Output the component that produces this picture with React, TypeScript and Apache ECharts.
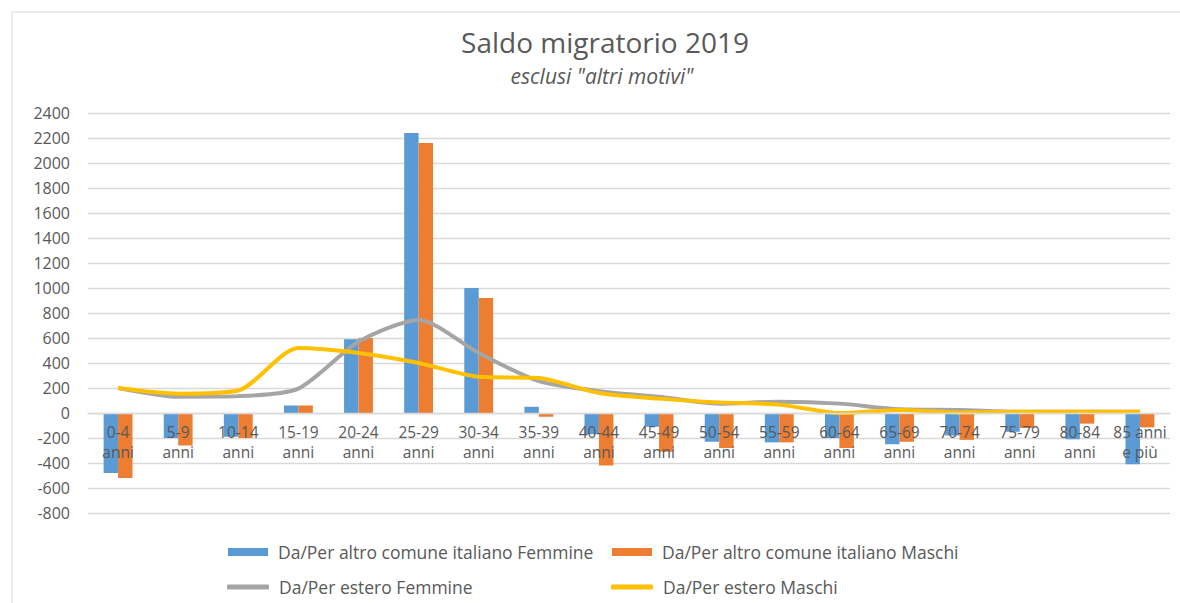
import React, { useEffect, useRef } from "react";
import * as echarts from "echarts";

const categories = [
  "0-4\nanni", "5-9\nanni", "10-14\nanni", "15-19\nanni", "20-24\nanni", "25-29\nanni",
  "30-34\nanni", "35-39\nanni", "40-44\nanni", "45-49\nanni", "50-54\nanni", "55-59\nanni",
  "60-64\nanni", "65-69\nanni", "70-74\nanni", "75-79\nanni", "80-84\nanni", "85 anni\ne più",
];

const italianoFemmine = [-480, -200, -190, 60, 590, 2240, 1000, 50, -170, -110, -230, -235, -200, -250, -180, -150, -210, -410];
const italianoMaschi = [-520, -260, -200, 60, 600, 2160, 920, -30, -420, -310, -280, -235, -280, -230, -215, -120, -85, -115];
const esteroFemmine = [200, 130, 135, 195, 570, 745, 480, 255, 175, 130, 75, 90, 75, 30, 25, 10, 10, 10];
const esteroMaschi = [200, 155, 180, 520, 480, 400, 290, 280, 160, 115, 85, 67, 0, 25, 5, 10, 10, 10];

const seriesNames = [
  "Da/Per altro comune italiano Femmine",
  "Da/Per altro comune italiano Maschi",
  "Da/Per estero Femmine",
  "Da/Per estero Maschi",
];

const titleText = "Saldo migratorio 2019";
const subtitleText = 'esclusi "altri motivi"';

const Y_MIN = -800;
const Y_MAX = 2400;
const Y_STEP = 200;

const FONT = "'Open Sans', 'Noto Sans', sans-serif";
const TEXT = "#595959";
const GRID_TOP = 113;
const GRID_BOTTOM = 90;
const GRID_HEIGHT = 603 - GRID_TOP - GRID_BOTTOM;

export default function App() {
  const ref = useRef<HTMLDivElement>(null);
  useEffect(() => {
    if (!ref.current) return;
    const chart = echarts.init(ref.current, undefined, { renderer: "svg" });
    const legendText = { fontSize: 17.5, color: TEXT, fontFamily: FONT, padding: [0, 0, 0, 5] };
    const zeroOffset = -GRID_HEIGHT * (0 - Y_MIN) / (Y_MAX - Y_MIN);
    chart.setOption({
      animation: false,
      backgroundColor: "#ffffff",
      textStyle: { fontFamily: FONT },
      graphic: [
        {
          type: "rect",
          shape: { x: 12, y: 12, width: 1200, height: 620 },
          style: { fill: "none", stroke: "#D9D9D9", lineWidth: 1 },
          silent: true,
        },
        {
          type: "text",
          x: 605,
          y: 42,
          silent: true,
          style: {
            text: titleText,
            align: "center",
            verticalAlign: "middle",
            fontSize: 28,
            fontFamily: FONT,
            fill: TEXT,
          },
        },
        {
          type: "text",
          x: 602,
          y: 76,
          silent: true,
          style: {
            text: subtitleText,
            align: "center",
            verticalAlign: "middle",
            fontSize: 21,
            fontStyle: "italic",
            fontFamily: FONT,
            fill: TEXT,
          },
        },
      ],
      legend: [
        {
          data: [seriesNames[0]],
          left: 228,
          top: 543,
          padding: 0,
          itemWidth: 40,
          itemHeight: 8,
          icon: "rect",
          textStyle: legendText,
        },
        {
          data: [seriesNames[1]],
          left: 612,
          top: 543,
          padding: 0,
          itemWidth: 40,
          itemHeight: 8,
          icon: "rect",
          textStyle: legendText,
        },
        {
          data: [seriesNames[2]],
          left: 227,
          top: 578,
          padding: 0,
          itemWidth: 42,
          itemHeight: 5,
          icon: "roundRect",
          textStyle: legendText,
        },
        {
          data: [seriesNames[3]],
          left: 611,
          top: 578,
          padding: 0,
          itemWidth: 42,
          itemHeight: 5,
          icon: "roundRect",
          textStyle: legendText,
        },
      ],
      grid: { left: 88, right: 10, top: GRID_TOP, bottom: GRID_BOTTOM, containLabel: false },
      xAxis: {
        type: "category",
        data: categories,
        offset: zeroOffset,
        z: 10,
        axisTick: { show: false },
        axisLine: { show: true, onZero: false, lineStyle: { color: "#D9D9D9", width: 1.3 } },
        axisLabel: {
          color: TEXT,
          fontSize: 15.5,
          lineHeight: 20,
          margin: 9,
          interval: 0,
          fontFamily: FONT,
        },
      },
      yAxis: {
        type: "value",
        min: Y_MIN,
        max: Y_MAX,
        interval: Y_STEP,
        axisLine: { show: false },
        axisTick: { show: false },
        axisLabel: {
          color: TEXT,
          fontSize: 16,
          margin: 18,
          fontFamily: FONT,
          formatter: (v: number) => String(v),
        },
        splitLine: { lineStyle: { color: "#D9D9D9", width: 1.3 } },
      },
      series: [
        {
          name: seriesNames[0],
          type: "bar",
          data: italianoFemmine,
          barWidth: "24%",
          barGap: "0%",
          itemStyle: { color: "#5B9BD5" },
        },
        {
          name: seriesNames[1],
          type: "bar",
          data: italianoMaschi,
          barWidth: "24%",
          barGap: "0%",
          itemStyle: { color: "#ED7D31" },
        },
        {
          name: seriesNames[2],
          type: "line",
          data: esteroFemmine,
          smooth: 0.25,
          symbol: "none",
          lineStyle: { color: "#A5A5A5", width: 4 },
          itemStyle: { color: "#A5A5A5" },
          z: 3,
        },
        {
          name: seriesNames[3],
          type: "line",
          data: esteroMaschi,
          smooth: 0.25,
          symbol: "none",
          lineStyle: { color: "#FFC000", width: 4 },
          itemStyle: { color: "#FFC000" },
          z: 4,
        },
      ],
    });
    return () => chart.dispose();
  }, []);
  return (
    <div
      ref={ref}
      style={{ position: "fixed", left: 0, top: 0, width: 1180, height: 603, background: "#fff" }}
    />
  );
}
